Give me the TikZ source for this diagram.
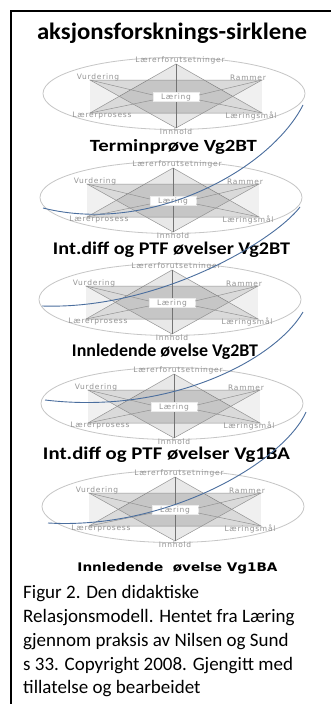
\documentclass[tikz,border=0pt]{standalone}
\usepackage{fontspec}
\setmainfont{Carlito}
\newfontfamily\lblfont[LetterSpace=10]{DejaVu Sans}
\newfontfamily\widebold{DejaVu Sans}
\definecolor{curveblue}{HTML}{4A6E9E}
\definecolor{rimgray}{HTML}{C6C6C6}
\definecolor{edgegray}{HTML}{929292}

\tikzset{
  rim/.style={draw=rimgray, line width=0.8pt},
  bandfill/.style={fill=black!6},
  tri/.style={fill=black, fill opacity=0.09, draw=edgegray, draw opacity=1, line width=0.5pt},
  spoke/.style={draw=edgegray, line width=0.5pt},
  axisline/.style={draw=black!55, line width=0.6pt},
  lbl/.style={font=\lblfont\fontsize{7.5}{8}\selectfont, text=black!42, inner sep=0pt},
  centrebox/.style={fill=white, draw=black!8, minimum width=46pt, minimum height=9pt, inner sep=0pt},
  flow/.style={draw=curveblue, line width=0.9pt},
  heading/.style={font=\bfseries, inner sep=0pt},
  captionline/.style={font=\fontsize{19}{23}\selectfont, anchor=base west, inner sep=0pt},
  frame/.style={draw=black, line width=1.4pt}
}

% one relation model: #1 name prefix, #2 centre x, #3 centre y
\newcommand{\relmod}[3]{%
  \begin{scope}[shift={(#2,#3)}]
    \draw[rim] (-2,-3.5) ellipse [x radius=131pt, y radius=36pt];
    \coordinate (#1-top) at (0,-33);
    \coordinate (#1-bot) at (0,31);
    \coordinate (#1-vu) at (-86,-17);
    \coordinate (#1-ra) at (86,-17);
    \coordinate (#1-lp) at (-86,16);
    \coordinate (#1-lm) at (86,16);
    \fill[bandfill] (#1-vu) rectangle (#1-lm);
    \filldraw[tri] (#1-top) -- (#1-lp) -- (#1-lm) -- cycle;
    \filldraw[tri] (#1-bot) -- (#1-vu) -- (#1-ra) -- cycle;
    \draw[axisline] (#1-top) -- (#1-bot);
    \node[centrebox] (#1-c) at (0,0) {};
    \draw[spoke] (#1-vu) -- (#1-c.west |- 0,-2);
    \draw[spoke] (#1-lp) -- (#1-c.west |- 0,3);
    \draw[spoke] (#1-ra) -- (#1-c.east |- 0,-2);
    \draw[spoke] (#1-lm) -- (#1-c.east |- 0,3);
    \node[lbl] at (#1-c) {Læring};
    \node[lbl] (#1-lf) at (4,-37) {Lærerforutsetninger};
    \node[lbl] (#1-vl) at (-78,-19.5) {Vurdering};
    \node[lbl] (#1-rl) at (72,-19.5) {Rammer};
    \node[lbl] (#1-pl) at (-74,19) {Lærerprosess};
    \node[lbl] (#1-ml) at (75,19) {Læringsmål};
    \node[lbl] (#1-il) at (0,34.5) {Innhold};
  \end{scope}}

\begin{document}
\begin{tikzpicture}[x=1pt,y=-1pt]
  \useasboundingbox (0,0) rectangle (331,704);
  \fill[white] (0,0) rectangle (331,704);
  \coordinate (fr-tr) at (331,11);
  \coordinate (fr-tl) at (11,11);
  \coordinate (fr-bl) at (11,704);
  \draw[frame] (fr-tr) -- (fr-tl) -- (fr-bl);

  \node[heading] (title) at (172,33) {\resizebox{270pt}{16.5pt}{aksjonsforsknings-sirklene}};

  \relmod{m1}{176}{97}
  \relmod{m2}{173}{201}
  \relmod{m3}{172}{303}
  \relmod{m4}{174}{407}
  \relmod{m5}{175}{510}

  \node[heading] (t1) at (173.5,147) {\resizebox{167pt}{12pt}{Terminprøve Vg2BT}};
  \node[heading] (t2) at (171.5,250) {\resizebox{237pt}{12.5pt}{Int.diff og PTF øvelser Vg2BT}};
  \node[heading] (t3) at (165,352) {\resizebox{186pt}{12.5pt}{Innledende øvelse Vg2BT}};
  \node[heading] (t4) at (166.5,455) {\resizebox{247pt}{12.5pt}{Int.diff og PTF øvelser Vg1BA}};
  \node[heading, font=\widebold\bfseries] (t5) at (177.5,568) {\resizebox{200pt}{9pt}{Innledende\ \ øvelse Vg1BA}};

  % blue path winding from one model to the next
  \coordinate (f1a) at (303,105);  \coordinate (f1b) at (43,208);
  \coordinate (f2a) at (300,207);  \coordinate (f2b) at (42,306);
  \coordinate (f3a) at (303,312);  \coordinate (f3b) at (45,400);
  \coordinate (f4a) at (306,412);  \coordinate (f4b) at (48,523);
  \draw[flow] (f1a) .. controls (270,170) and (150,235) .. (f1b);
  \draw[flow] (f2a) .. controls (275,240) and (160,310) .. (f2b);
  \draw[flow] (f3a) .. controls (275,360) and (170,415) .. (f3b);
  \draw[flow] (f4a) .. controls (285,460) and (170,530) .. (f4b);

  \node[captionline] (c1) at (23,598) {Figur 2. Den didaktiske};
  \node[captionline] (c2) at (23,622) {Relasjonsmodell. Hentet fra Læring};
  \node[captionline] (c3) at (23,646) {gjennom praksis av Nilsen og Sund};
  \node[captionline] (c4) at (23,670) {s 33. Copyright 2008. Gjengitt med};
  \node[captionline] (c5) at (23,693) {tillatelse og bearbeidet};
\end{tikzpicture}
\end{document}
